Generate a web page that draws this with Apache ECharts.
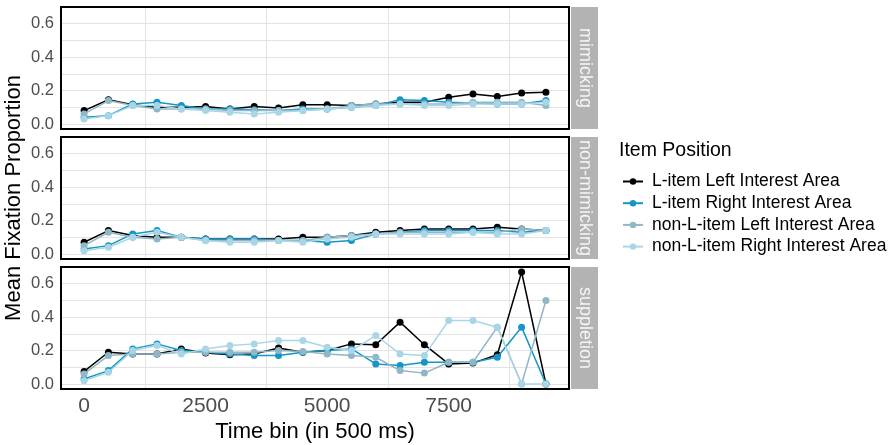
<!DOCTYPE html>
<html><head><meta charset="utf-8">
<script src="https://cdn.jsdelivr.net/npm/echarts@6/dist/echarts.min.js"></script>
<style>html,body{margin:0;padding:0;background:#fff}#c{width:895px;height:445px}</style>
</head><body><div id="c"></div>
<script>
// ---- data ----
const timeBins = [0,500,1000,1500,2000,2500,3000,3500,4000,4500,5000,5500,6000,6500,7000,7500,8000,8500,9000,9500];
const panels = ['mimicking','non-mimicking','suppletion'];
const seriesNames = ['L-item Left Interest Area','L-item Right Interest Area','non-L-item Left Interest Area','non-L-item Right Interest Area'];
const xTickLabels = [0,2500,5000,7500];
const xGridValues = [1250,3750,6250,8750];
const yTickLabels = [0,0.2,0.4,0.6];
const yGridValues = [0,0.1,0.2,0.3,0.4,0.5,0.6];

const mimLItemLeft   = [0.08,0.145,0.115,0.10,0.10,0.105,0.09,0.105,0.095,0.115,0.115,0.11,0.12,0.13,0.13,0.16,0.18,0.165,0.185,0.19];
const mimLItemRight  = [0.04,0.05,0.12,0.13,0.11,0.09,0.09,0.085,0.08,0.09,0.09,0.10,0.11,0.145,0.14,0.13,0.125,0.12,0.12,0.14];
const mimNonLLeft    = [0.06,0.14,0.11,0.09,0.09,0.09,0.08,0.08,0.08,0.08,0.09,0.11,0.12,0.12,0.12,0.12,0.13,0.13,0.13,0.11];
const mimNonLRight   = [0.03,0.05,0.11,0.11,0.09,0.08,0.07,0.06,0.07,0.08,0.09,0.10,0.11,0.12,0.11,0.11,0.12,0.12,0.12,0.13];

const nonLItemLeft   = [0.07,0.14,0.11,0.10,0.10,0.09,0.09,0.09,0.09,0.10,0.10,0.11,0.13,0.14,0.15,0.15,0.15,0.16,0.15,0.14];
const nonLItemRight  = [0.03,0.05,0.12,0.14,0.10,0.09,0.09,0.09,0.08,0.08,0.07,0.08,0.12,0.13,0.14,0.14,0.14,0.14,0.13,0.14];
const nonNonLLeft    = [0.05,0.13,0.10,0.09,0.10,0.08,0.08,0.08,0.08,0.08,0.10,0.11,0.12,0.13,0.13,0.13,0.13,0.13,0.15,0.14];
const nonNonLRight   = [0.02,0.04,0.10,0.13,0.10,0.08,0.07,0.07,0.08,0.07,0.09,0.10,0.12,0.12,0.12,0.12,0.13,0.12,0.12,0.14];

const supLItemLeft   = [0.075,0.19,0.18,0.18,0.21,0.185,0.175,0.18,0.215,0.19,0.20,0.24,0.235,0.37,0.235,0.12,0.125,0.175,0.67,0.0];
const supLItemRight  = [0.03,0.08,0.21,0.24,0.20,0.19,0.18,0.17,0.17,0.19,0.20,0.21,0.12,0.11,0.13,0.13,0.13,0.16,0.34,0.0];
const supNonLLeft    = [0.06,0.17,0.18,0.18,0.19,0.19,0.19,0.19,0.20,0.195,0.18,0.17,0.16,0.08,0.065,0.13,0.13,0.34,0.0,0.50];
const supNonLRight   = [0.02,0.07,0.20,0.23,0.18,0.21,0.23,0.24,0.26,0.26,0.22,0.20,0.29,0.18,0.17,0.38,0.38,0.34,0.0,0.0];

const panelData = [
  [mimLItemLeft, mimLItemRight, mimNonLLeft, mimNonLRight],
  [nonLItemLeft, nonLItemRight, nonNonLLeft, nonNonLRight],
  [supLItemLeft, supLItemRight, supNonLLeft, supNonLRight]
];

// ---- style ----
const colors = ['#000000','#1596c6','#8fb7c7','#a8d6e6'];
const FONT = '"Liberation Sans", Arial, sans-serif';
const gridLeft = 61, gridWidth = 508, gridHeight = 122;
const gridTops = [7, 137, 267];

const chart = echarts.init(document.getElementById('c'), null, {renderer:'canvas'});

const grids = [], xAxes = [], yAxes = [], series = [], graphics = [];
panels.forEach((p, pi) => {
  grids.push({left: gridLeft, top: gridTops[pi], width: gridWidth, height: gridHeight,
    show: true, borderColor: '#000', borderWidth: 2, backgroundColor: 'transparent', z: 3});
  const isBottom = pi === panels.length - 1;
  xAxes.push({type: 'value', gridIndex: pi, min: -475, max: 9975,
    axisLine: {show: false},
    axisTick: {show: false, customValues: xGridValues},
    splitLine: {show: true, lineStyle: {color: '#e3e3e3', width: 1}},
    axisLabel: {show: isBottom, customValues: xTickLabels, color: '#4d4d4d', fontSize: 21, fontFamily: FONT, margin: 7,
      formatter: v => String(v)},
    name: isBottom ? 'Time bin (in 500 ms)' : '', nameLocation: 'middle', nameGap: 32,
    nameTextStyle: {fontSize: 22, fontFamily: FONT, color: '#000'}
  });
  yAxes.push({type: 'value', gridIndex: pi, min: -0.03, max: 0.70,
    axisLine: {show: false},
    axisTick: {show: false, customValues: yGridValues},
    splitLine: {show: true, lineStyle: {color: '#e3e3e3', width: 1}},
    axisLabel: {customValues: yTickLabels, color: '#4d4d4d', fontSize: 16.5, fontFamily: FONT, margin: 7,
      formatter: v => v.toFixed(1)}
  });
  panelData[pi].forEach((arr, si) => {
    series.push({
      type: 'line', name: seriesNames[si], xAxisIndex: pi, yAxisIndex: pi,
      data: timeBins.map((t, i) => [t, arr[i]]),
      symbol: 'circle', symbolSize: 7, showSymbol: true,
      lineStyle: {color: colors[si], width: 1.5},
      itemStyle: {color: colors[si]},
      emphasis: {disabled: true}, animation: false, z: 2 + si
    });
  });
  // strip
  graphics.push({type: 'rect', left: gridLeft + gridWidth + 2, top: gridTops[pi],
    shape: {width: 27, height: gridHeight}, style: {fill: '#b3b3b3'}});
  graphics.push({type: 'text', x: gridLeft + gridWidth + 2 + 13.5, y: gridTops[pi] + gridHeight / 2,
    rotation: -Math.PI / 2,
    style: {text: p, fill: '#f5f5f5', font: '18px ' + FONT, align: 'center', verticalAlign: 'middle'}});
});

graphics.push({type: 'text', x: 14, y: 198, rotation: Math.PI / 2,
  style: {text: 'Mean Fixation Proportion', fill: '#000', font: '22px ' + FONT, align: 'center', verticalAlign: 'middle'}});
graphics.push({type: 'text', x: 619, y: 151,
  style: {text: 'Item Position', fill: '#000', font: '19.5px ' + FONT, align: 'left', verticalAlign: 'middle'}});

chart.setOption({
  animation: false,
  color: colors,
  grid: grids, xAxis: xAxes, yAxis: yAxes, series: series,
  legend: {
    data: seriesNames, orient: 'vertical', left: 617, top: 166, padding: 5,
    itemWidth: 20, itemHeight: 8, itemGap: 0.7, selectedMode: false,
    textStyle: {fontSize: 17.5, fontFamily: FONT, color: '#000', lineHeight: 21, padding: [0, 0, 0, 4]}
  },
  graphic: graphics
});
</script></body></html>
